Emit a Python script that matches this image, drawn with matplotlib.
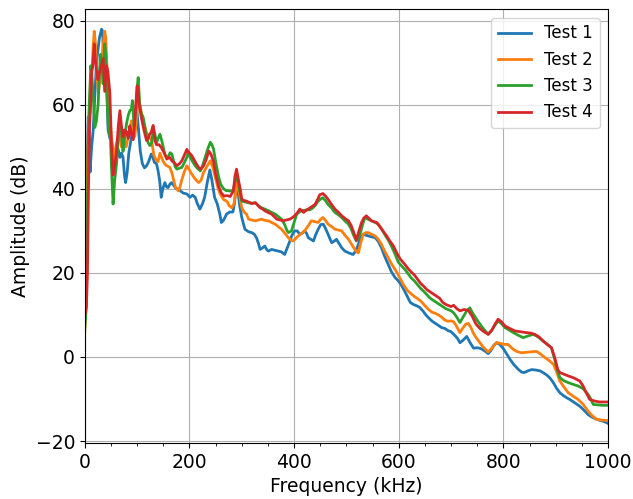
import matplotlib
matplotlib.use("Agg")
import matplotlib.pyplot as plt
from matplotlib.ticker import MultipleLocator

# Spectrum magnitude of the four test runs (frequency in kHz, amplitude in dB)
freq_1 = [0, 3, 5, 6.5, 8, 10, 13, 16, 19, 22, 25, 28, 32, 34, 36, 39, 41.5, 44.5, 48, 51,
          54, 57, 60, 63.5, 67, 70, 73, 76, 78, 81, 84, 88, 92, 96, 99, 102, 106, 110, 114, 118,
          122, 127, 130, 133, 137, 140, 143, 146, 149, 153, 156, 159, 163, 166, 170, 175, 179, 182, 188, 195,
          201, 206, 211, 215, 220, 225, 229, 234, 239, 243, 248, 253, 258, 261, 265, 271, 277, 283, 286, 289,
          292, 296, 300, 306, 313, 319, 324, 328, 332, 335, 340, 344, 348, 351, 357, 363, 370, 376, 382, 387,
          392, 396, 401, 406, 411, 416, 420, 424, 427, 432, 437, 441, 446, 451, 456, 460, 465, 469, 472, 477,
          481, 486, 491, 497, 504, 510, 513, 518, 523, 527, 532, 537, 542, 548, 555, 561, 567, 573, 580, 586,
          593, 598, 603, 610, 616, 622, 628, 634, 640, 646, 652, 658, 664, 670, 676, 682, 688, 694, 700, 706,
          712, 717, 723, 730, 736, 743, 749, 755, 760, 766, 771, 776, 782, 787, 793, 800, 806, 813, 820, 829,
          835, 840, 847, 854, 862, 870, 877, 883, 889, 895, 902, 908, 915, 921, 927, 933, 940, 946, 952, 958,
          962, 968, 973, 978, 985, 991, 997, 1000]
amp_1 = [14, 16, 48, 57, 56, 44, 50, 54, 62, 69.5, 73, 76, 78, 77.5, 70, 67, 65.5, 54, 52, 52,
         48.5, 45, 47.5, 49.5, 47.5, 48.5, 47.5, 43, 41.5, 44, 48.5, 51.5, 54, 56.5, 59.5, 55, 49, 46, 45, 45.5,
         46.5, 48.3, 47.5, 46.3, 46, 44.3, 42, 38, 40, 41.5, 40.5, 40.3, 41.2, 41.5, 40.8, 40, 40, 39.6, 39, 38.8,
         38, 38.5, 38, 36.5, 35.2, 36.5, 38, 41.5, 44.5, 42, 38, 36.5, 34, 32, 32.5, 34, 34.5, 34.5, 36.5, 40.5,
         40, 36, 33.2, 30.4, 29.8, 29.6, 29.2, 28.4, 27, 25.6, 26, 26.4, 25.5, 25.2, 25.6, 25.4, 25.2, 25, 24.4, 26,
         27.6, 29, 30, 30, 29.2, 29.5, 30, 29.4, 28.4, 28, 27.6, 29, 30.4, 31.5, 31.6, 30.6, 29.2, 28, 27.2, 27.6,
         28, 27, 26, 25.2, 24.8, 24.5, 24.4, 25.3, 26.8, 28.5, 29.2, 29, 28.8, 28.6, 28.4, 27.5, 26, 24, 22, 20.3,
         18.9, 18.3, 17.5, 16, 14.5, 13, 12.5, 12.2, 11.8, 11, 10, 9.2, 8.5, 8, 7.5, 7, 6.8, 6.3, 6, 5.3,
         4.5, 3.4, 4, 4.9, 3.5, 2.1, 2.2, 2.1, 1.8, 1.3, 0.8, 1.5, 2.8, 3.4, 3, 2, 0.8, -0.6, -1.8, -3,
         -3.6, -3.7, -3.3, -3, -3.1, -3.3, -3.8, -4.3, -5, -6, -7.5, -8.5, -9.2, -9.7, -10.1, -10.6, -11.2, -11.7, -12.4, -13.2,
         -13.7, -14.2, -14.5, -14.8, -15.1, -15.3, -15.6, -15.8]

freq_2 = [0, 3, 5, 7, 10, 13, 16, 18, 20, 23, 26, 29, 32, 35, 38, 40, 42, 45, 48, 51,
          54, 57, 60, 63, 67, 70, 73, 76, 79, 83, 86, 89, 92, 95.6, 99, 102, 105, 108, 111.5, 115,
          118, 122, 127.6, 132, 137, 140, 143.6, 148, 153, 157, 162.6, 166, 169, 173, 178.7, 182, 185, 190, 195, 200,
          204.6, 210, 217.4, 222, 227, 234, 240, 245, 250, 255, 259, 265, 272, 276, 281, 285, 288, 291, 294, 297,
          300, 305, 309, 313, 319, 326, 332, 338, 344, 351, 357, 364, 370, 376, 382, 389, 394, 398, 403, 408,
          414, 420, 427, 433, 440, 446, 451, 455, 460, 465, 472, 478, 485, 491, 497, 504, 510, 516, 520, 523,
          527, 532, 537, 542, 548, 555, 561, 567, 573, 580, 586, 593, 598, 603, 610, 617, 624, 630, 637, 643,
          650, 657, 663, 670, 676, 682, 688, 694, 700, 705, 711, 717, 722, 728, 733, 738, 743, 748, 754, 760,
          766, 771, 776, 782, 787, 793, 800, 809, 814, 819, 826, 835, 843, 851, 858, 864, 870, 876, 880, 886,
          891, 896, 902, 908, 915, 924, 933, 943, 952, 962, 970, 978, 987, 997, 1000]
amp_2 = [6, 20, 45, 57, 58, 66, 74, 77.5, 75, 67, 63, 66, 70, 74, 77.5, 76, 70, 63, 57, 52,
         47, 48.6, 50.5, 52, 52.5, 50, 52, 51, 50, 52.5, 54, 56.2, 54, 52.5, 57, 61, 60.2, 58, 56, 54.5,
         53.4, 52.5, 51.5, 48, 46.7, 46.5, 48.5, 47, 45.9, 45.5, 45.1, 44, 42.5, 40.5, 39.5, 40.5, 42, 44, 45.5, 44.5,
         43.5, 42.5, 41.5, 42, 43.9, 45.5, 46.7, 45, 42.5, 40, 38.7, 37.5, 37, 36, 35.5, 36.5, 38.7, 42.5, 40, 37.5,
         35.5, 34.4, 34, 32.8, 32.6, 32.4, 32.6, 32.8, 32.5, 32.4, 32, 31.6, 31, 30.4, 29.5, 28.4, 27.8, 27.6, 28.2, 28.8,
         29.4, 30, 31.2, 32.4, 32.2, 32, 32.8, 33.2, 32.5, 31.6, 31, 30.4, 30.2, 30, 29, 28, 26.8, 25.6, 25, 24.8,
         27, 29.2, 29.6, 29.6, 29.2, 28.8, 28, 26.8, 25.2, 23.6, 22.2, 20.8, 19.8, 18.6, 17, 15.8, 15, 14.4, 13.8, 13.2,
         12.2, 11.3, 10.7, 10.4, 10, 9.5, 8.8, 8.5, 8.6, 8.4, 7.2, 5.8, 6.8, 7.8, 8, 7, 5.6, 4.6, 3.6, 2.6,
         1.8, 1.2, 1.8, 2.8, 3.4, 3.3, 3, 3, 2.4, 1.8, 1.3, 1, 1.1, 1.2, 1.3, 1.3, 0.8, 0.2, -0.2, -0.7,
         -1.2, -1.8, -3.6, -5.7, -7, -8.5, -9.3, -10.1, -11.2, -12.9, -14, -14.8, -15, -15.1, -15.1]

freq_3 = [0, 3, 5, 7, 9, 11.5, 14, 17, 19, 22, 25.5, 28, 30, 33, 35, 38, 40, 42, 44.6, 47,
          49, 51, 54, 57, 60.6, 64, 67, 70, 73, 76, 79.7, 83, 86, 89, 91, 94, 97, 100, 102, 105,
          108, 111.6, 115, 118, 121, 124.3, 128, 131, 134, 137, 140, 143.6, 147, 150, 153, 156.7, 160, 163, 166.3, 170,
          173, 176, 180, 185.5, 190, 195, 198, 201.5, 206, 211, 216, 220.7, 225, 230, 235, 239.9, 243, 246, 250, 256,
          260, 265.5, 270, 278, 283, 286, 290, 293, 296, 300, 306, 313, 319, 326, 332, 338, 344, 351, 357, 364,
          370, 376, 382, 386, 389, 395, 400, 405, 410, 414, 419, 424, 428, 433, 440, 446, 451, 455, 460, 465,
          472, 478, 485, 491, 497, 504, 509, 513, 519, 523, 526, 531, 535, 541, 548, 555, 561, 567, 573, 580,
          586, 593, 599, 606, 612, 618, 624, 630, 636, 642, 648, 654, 660, 666, 672, 678, 684, 690, 696, 700,
          705, 711, 717, 723, 730, 736, 741, 746, 751, 757, 764, 771, 777, 784, 790, 796, 803, 810, 819, 828,
          838, 847, 857, 866, 876, 884, 892, 898, 904, 908, 915, 924, 933, 943, 952, 962, 967, 972, 980, 990,
          997, 1000]
amp_3 = [7, 12, 35, 55, 62, 69.3, 66, 60, 54.6, 56, 60.2, 68, 72, 69, 65, 74.5, 72, 64, 55.4, 53,
         52.2, 45, 36.4, 42, 46, 52, 56, 53, 48.9, 52, 55.5, 57.5, 58.6, 59, 61, 55, 58, 64, 66.5, 60,
         58, 57, 54.7, 52.2, 51, 50.3, 51, 54.5, 53, 51, 52, 53, 51.5, 49.8, 48.2, 47.5, 47.8, 48.6, 48.3, 46.5,
         45.2, 44.7, 44.9, 45.1, 46.2, 47.5, 48.8, 47.5, 46.5, 45.5, 44.8, 44.3, 45.5, 47.5, 49.5, 51.1, 50.5, 49.5, 46.5, 42.7,
         41, 40, 39.6, 39.5, 39.5, 41, 43.5, 42, 39.5, 37.1, 36.9, 36.7, 36.6, 36.7, 36, 35.5, 35.2, 34.8, 34.4, 34,
         33.4, 32.8, 31.5, 30.2, 29.6, 30, 32, 34, 34.5, 34.8, 34.9, 35, 35, 35.2, 36, 37.1, 37.6, 37.9, 37.2, 36.3,
         35.4, 34.4, 33.8, 33.2, 32.4, 31.6, 30.5, 29.2, 27.6, 28.4, 29.2, 31.5, 33.2, 32.8, 32.4, 32, 31.6, 30.5, 29.2, 27.8,
         26.4, 24.5, 22.6, 21.6, 20.8, 19.8, 18.8, 18.1, 17.2, 16.3, 15.6, 14.8, 14, 13.5, 13, 12.5, 12, 11.5, 11.2, 11,
         10.5, 9.5, 8.2, 9.5, 11, 11.7, 10.5, 9.5, 8.6, 7.5, 6.4, 5.4, 6.2, 7.6, 8.6, 8, 7, 6.5, 5.8, 5.2,
         4.6, 5, 5.4, 4.8, 3.8, 3, 2.2, -0.5, -3.5, -4.9, -5.6, -6.1, -6.5, -6.9, -7.5, -8.9, -10, -11.3, -11.4, -11.5,
         -11.5, -11.5]

freq_4 = [0, 3, 5, 7, 9, 11, 13, 15, 18, 20, 22, 25, 27, 31, 35, 38, 41.4, 44, 47.8, 51,
          54, 57, 60.6, 64, 67, 70, 73, 76, 79.7, 83, 86, 89, 92.4, 95.6, 98, 100, 102, 104, 108, 113,
          118, 121, 124, 127, 130.6, 134, 137, 142, 146.5, 152, 156.7, 162, 166.3, 171, 175.9, 181, 185.5, 190, 195, 200,
          204, 208, 213, 217.4, 222, 227, 232, 237, 241, 246, 250, 256, 261, 266, 272, 278, 284, 287, 290, 293,
          297, 300, 305, 309, 314, 319, 326, 330, 335, 340, 344, 350, 357, 362, 367, 373, 379, 385, 392, 397,
          401, 406, 411, 415, 418, 422, 427, 433, 440, 445, 449, 455, 460, 465, 471, 478, 485, 491, 497, 504,
          509, 513, 519, 524, 529, 533, 538, 543, 548, 553, 558, 564, 570, 577, 583, 590, 596, 603, 612, 618,
          624, 630, 636, 642, 648, 654, 660, 666, 672, 678, 684, 690, 696, 700, 705, 711, 717, 725, 733, 740,
          748, 755, 763, 771, 778, 784, 790, 796, 803, 812, 822, 833, 844, 852, 860, 868, 876, 884, 892, 899,
          904, 908, 916, 924, 935, 946, 952, 958, 965, 975, 984, 997, 1000]
amp_4 = [10, 12, 20, 40, 55, 60, 68, 69, 74.5, 71, 68.5, 66, 67.2, 69, 71, 63.2, 69.3, 68, 62.9, 50.4,
         43.3, 45.5, 48.9, 55, 58.6, 55, 52.4, 54, 53.5, 52, 55, 53, 51.7, 56.2, 61, 64.5, 63, 60, 57, 54,
         51.5, 52, 53, 53.5, 55.1, 51.5, 50.5, 50.5, 49.8, 48.5, 47.1, 47.5, 46.7, 46.2, 45.5, 46, 46.7, 48, 49.4, 48.5,
         48, 47.1, 46, 45.1, 44.7, 45.5, 47, 49, 48.3, 46.5, 43.5, 40.5, 39, 38.3, 38.4, 38.2, 39.5, 43, 44.7, 42.5,
         40, 37.5, 37.2, 37.1, 36.8, 36.5, 36.7, 36.2, 35.5, 35.2, 34.8, 34.4, 34, 33.4, 32.8, 32.6, 32.4, 32.6, 32.8, 33.2,
         33.6, 34.3, 35.2, 34.8, 34.4, 34.8, 35.2, 35.7, 36.3, 37.5, 38.6, 38.9, 38.3, 37.5, 36.4, 35.2, 34.4, 33.6, 33, 32.4,
         31.3, 30, 27.8, 30, 32, 33, 33.6, 33, 32.4, 32.2, 32, 31, 30, 28.8, 27.6, 26.4, 24.8, 23.3, 22, 21,
         20.2, 19.5, 18.5, 17.5, 16.8, 16, 15.5, 15, 14.5, 14, 13, 12.5, 12.2, 12, 12.3, 11.5, 11, 11.3, 11.1, 9.8,
         7.8, 6.8, 6, 5.4, 6.4, 7.8, 9, 8.4, 7.4, 6.8, 6.2, 6, 5.8, 5.7, 5.4, 4.8, 3.8, 3, 2.2, -0.5,
         -3, -3.7, -4.1, -4.5, -5, -5.7, -6.8, -8.4, -10.1, -10.5, -10.7, -10.7, -10.7]

series = [
    (freq_1, amp_1, "Test 1"),
    (freq_2, amp_2, "Test 2"),
    (freq_3, amp_3, "Test 3"),
    (freq_4, amp_4, "Test 4"),
]

fig = plt.figure(figsize=(6.33, 4.99), dpi=100)
ax = fig.add_axes([0.134, 0.112, 0.8265, 0.869])

for f, a, name in series:
    ax.plot(f, a, linewidth=2, label=name)

ax.set_xlim(0, 1000)
ax.xaxis.set_minor_locator(MultipleLocator(50))
ax.tick_params(labelsize=13.5)
ax.set_xlabel("Frequency (kHz)", fontsize=13.5)
ax.set_ylabel("Amplitude (dB)", fontsize=13.5)
ax.grid(True)
ax.legend(loc="upper right", fontsize=12)

fig.savefig("out.png", dpi=100)
